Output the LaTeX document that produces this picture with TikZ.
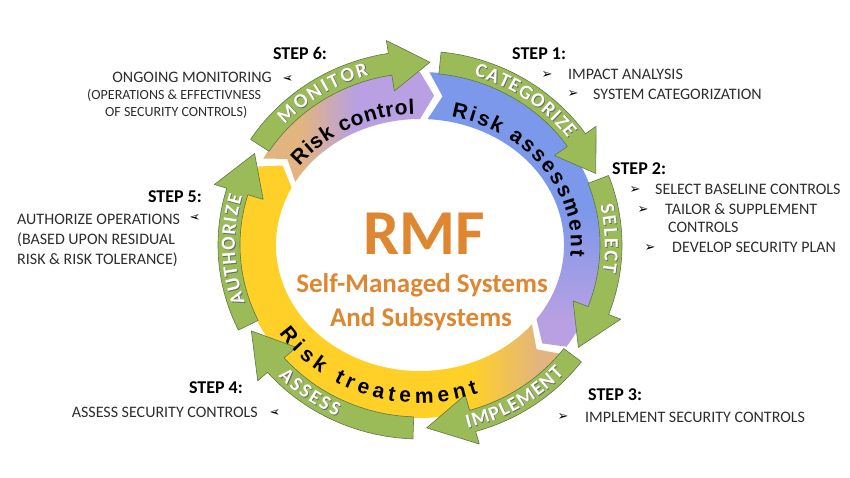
\documentclass[tikz,border=0pt]{standalone}
\usepackage{fontspec}
\usepackage{graphicx}
\setmainfont{Carlito}
\newfontfamily\arrowfont{DejaVu Sans}
\newfontfamily\bandfont{Liberation Sans}
\usetikzlibrary{decorations.text}

\definecolor{arrowgreen}{RGB}{155,187,89}
\definecolor{arrowedge}{RGB}{96,118,72}
\definecolor{bandblue}{RGB}{124,152,235}
\definecolor{bandlav}{RGB}{184,160,226}
\definecolor{bandtan}{RGB}{226,180,128}
\definecolor{bandyellow}{RGB}{255,208,40}
\definecolor{rmforange}{RGB}{222,135,48}
\definecolor{steptext}{RGB}{45,45,45}

\pgfdeclarehorizontalshading{controlshade}{100bp}{color(0bp)=(bandtan); color(36bp)=(bandtan); color(52bp)=(bandlav); color(100bp)=(bandlav)}
\pgfdeclareverticalshading{assessshade}{100bp}{color(0bp)=(bandlav); color(30bp)=(bandlav); color(50bp)=(bandblue); color(100bp)=(bandblue)}
\pgfdeclarehorizontalshading{treatshade}{100bp}{color(0bp)=(bandyellow); color(62bp)=(bandyellow); color(72bp)=(bandtan); color(100bp)=(bandtan)}

\newcommand{\lblfont}{\fontsize{20}{20}\selectfont\bfseries}
\newcommand{\riskfont}{\bandfont\fontsize{21}{21}\selectfont\bfseries}

% green arrow: tail angle, head base angle, tip angle
\newcommand{\ringarrow}[3]{%
  \filldraw[greenarrow] (#1:202pt and 194pt)
    arc[start angle=#1, end angle=#2, x radius=202pt, y radius=194pt]
    -- (#2:215pt and 207pt) -- (#3:191pt and 183pt) -- (#2:164pt and 156pt)
    -- (#2:180pt and 172pt)
    arc[start angle=#2, end angle=#1, x radius=180pt, y radius=172pt] -- cycle;}

% inner band: start angle, end angle, shading
\newcommand{\riskband}[3]{%
  \shade[shading=#3] (#1:181pt and 173pt)
    arc[start angle=#1, end angle=#2, x radius=181pt, y radius=173pt]
    -- ({#2-5}:162pt and 150pt) -- (#2:144pt and 126pt)
    arc[start angle=#2, end angle=#1, x radius=144pt, y radius=126pt]
    -- ({#1-5}:162pt and 150pt) -- cycle;}

% white word on a green arrow: word, start, end, x radius, y radius
\newcommand{\greenlabel}[5]{%
  \path[labelpath, shift={(0.8,-0.8)}, decoration={text={|\lblfont|#1}, text color=black!60}]
    (#2:#4 and #5) arc[start angle=#2, end angle=#3, x radius=#4, y radius=#5];
  \path[labelpath, decoration={text={|\lblfont|#1}, text color=white}]
    (#2:#4 and #5) arc[start angle=#2, end angle=#3, x radius=#4, y radius=#5];}

\begin{document}
\begin{tikzpicture}[x=1pt, y=1pt,
  greenarrow/.style={fill=arrowgreen, draw=arrowedge, line width=0.6pt, line join=round},
  steptitle/.style={font=\fontsize{18}{18}\selectfont\bfseries, text=black, inner sep=0pt},
  stepitem/.style={font=\fontsize{16}{16}\selectfont, text=steptext, inner sep=0pt},
  stepnote/.style={font=\fontsize{14}{14}\selectfont, text=steptext, inner sep=0pt},
  bullet/.style={font=\arrowfont\fontsize{13}{13}\selectfont, text=black, inner sep=0pt},
  labelpath/.style={decorate, decoration={text along path, text align={fit to path}}}]
\useasboundingbox (-420,-233) rectangle (430,245);

%inner risk bands
\riskband{150}{90}{controlshade}
\riskband{87}{-36}{assessshade}
\riskband{-39}{-207}{treatshade}

%green arrows, clockwise
\ringarrow{84}{35}{23}
\ringarrow{21}{-21}{-34}
\ringarrow{-37}{-74}{-88}
\ringarrow{-92}{-139}{-152}
\ringarrow{206}{163}{150}
\ringarrow{147}{99}{87}

%words on the arrows
\greenlabel{CATEGORIZE}{73}{37}{185pt}{177pt}
\greenlabel{SELECT}{13}{-9}{185pt}{177pt}
\greenlabel{IMPLEMENT}{-76}{-43}{197pt}{189pt}
\greenlabel{ASSESS}{-136}{-115}{197pt}{189pt}
\greenlabel{AUTHORIZE}{199}{164}{185pt}{177pt}
\greenlabel{MONITOR}{137}{106}{185pt}{177pt}

%words on the risk bands
\path[labelpath, decoration={text={|\riskfont|Risk control}}]
  (143:151pt and 131pt) arc[start angle=143, end angle=92, x radius=151pt, y radius=131pt];
\path[labelpath, decoration={text={|\riskfont|Risk assessment}}]
  (78:151pt and 131pt) arc[start angle=78, end angle=-5, x radius=151pt, y radius=131pt];
\path[labelpath, decoration={text={|\riskfont|Risk treatement}}]
  (214:170pt and 158pt) arc[start angle=214, end angle=290, x radius=170pt, y radius=158pt];

%centre
\node[anchor=base, text=rmforange, font=\fontsize{64}{64}\selectfont\bfseries] (rmf) at (4,-10) {RMF};
\node[anchor=base, text=rmforange, font=\fontsize{27}{27}\selectfont\bfseries] (rmfa) at (2,-48) {Self-Managed Systems};
\node[anchor=base, text=rmforange, font=\fontsize{27}{27}\selectfont\bfseries] (rmfb) at (1,-82) {And Subsystems};

%step 1
\node[steptitle, anchor=base west] (s1) at (92,185) {STEP 1:};
\node[bullet] (b1a) at (127,170) {➢};
\node[stepitem, anchor=base west] (s1a) at (148,165) {IMPACT ANALYSIS};
\node[bullet] (b1b) at (153,151) {➢};
\node[stepitem, anchor=base west] (s1b) at (173,145) {SYSTEM CATEGORIZATION};
%step 2
\node[steptitle, anchor=base west] (s2) at (192,70) {STEP 2:};
\node[bullet] (b2a) at (215,55) {➢};
\node[stepitem, anchor=base west] (s2a) at (235,50) {SELECT BASELINE CONTROLS};
\node[bullet] (b2b) at (223,35) {➢};
\node[stepitem, anchor=base west] (s2b) at (245,30) {TAILOR \& SUPPLEMENT};
\node[stepitem, anchor=base west] (s2c) at (248,12) {CONTROLS};
\node[bullet] (b2c) at (230,-3) {➢};
\node[stepitem, anchor=base west] (s2d) at (252,-8) {DEVELOP SECURITY PLAN};
%step 3
\node[steptitle, anchor=base west] (s3) at (168,-155) {STEP 3:};
\node[bullet] (b3a) at (143,-172) {➢};
\node[stepitem, anchor=base west] (s3a) at (165,-177) {IMPLEMENT SECURITY CONTROLS};
%step 4
\node[steptitle, anchor=base east] (s4) at (-177,-148) {STEP 4:};
\node[stepitem, anchor=base east] (s4a) at (-162,-172) {ASSESS SECURITY CONTROLS};
\node[bullet] (b4a) at (-145,-168) {\reflectbox{➢}};
%step 5
\node[steptitle, anchor=base east] (s5) at (-218,42) {STEP 5:};
\node[stepitem, anchor=base west] (s5a) at (-403,20) {AUTHORIZE OPERATIONS};
\node[bullet] (b5a) at (-225,27) {\reflectbox{➢}};
\node[stepitem, anchor=base west] (s5b) at (-403,0) {(BASED UPON RESIDUAL};
\node[stepitem, anchor=base west] (s5c) at (-403,-20) {RISK \& RISK TOLERANCE)};
%step 6
\node[steptitle, anchor=base] (s6) at (-120,185) {STEP 6:};
\node[stepitem, anchor=base east] (s6a) at (-148,162) {ONGOING MONITORING};
\node[bullet] (b6a) at (-132,166) {\reflectbox{➢}};
\node[stepnote, anchor=base west] (s6b) at (-333,145) {(OPERATIONS \& EFFECTIVNESS};
\node[stepnote, anchor=base west] (s6c) at (-315,128) {OF SECURITY CONTROLS)};
\end{tikzpicture}
\end{document}
